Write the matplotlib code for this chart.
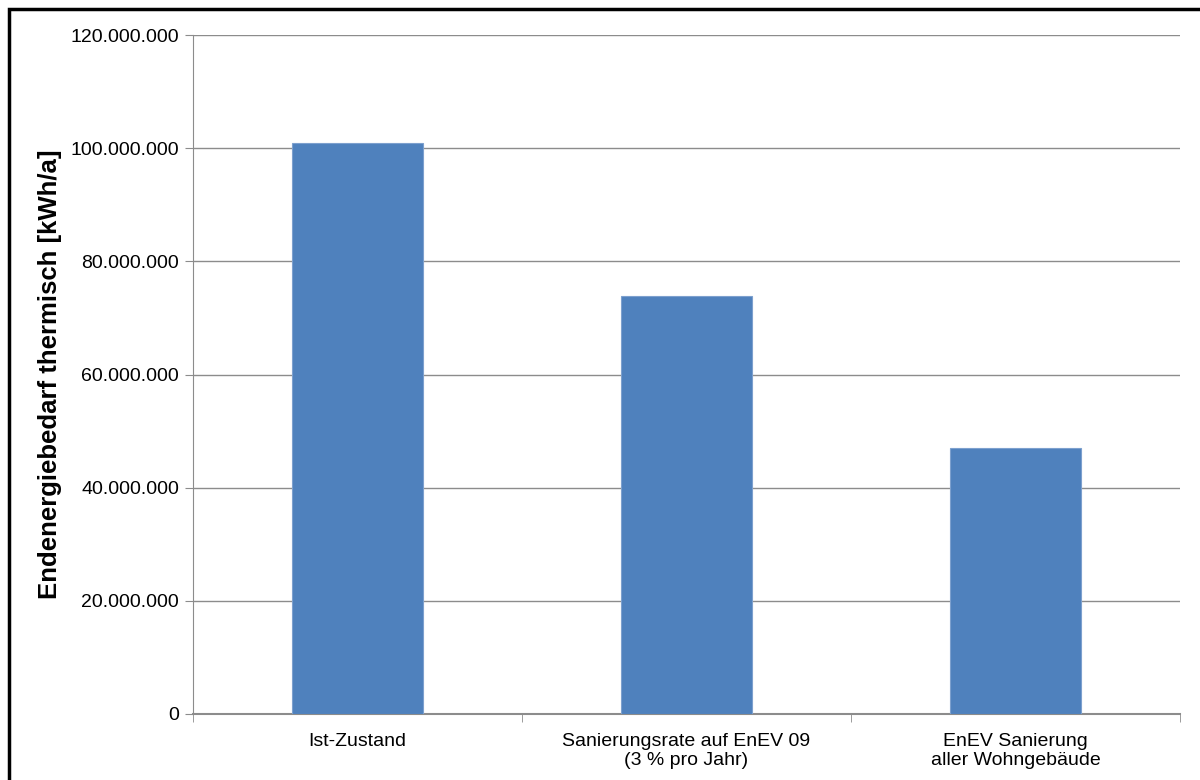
import matplotlib
matplotlib.use('Agg')
import matplotlib.pyplot as plt
from matplotlib.ticker import FuncFormatter, FixedLocator
from matplotlib.patches import Rectangle

categories = ['Ist-Zustand', 'Sanierungsrate auf EnEV 09\n(3 % pro Jahr)',
              'EnEV Sanierung\naller Wohngebäude']
values = [101000000, 73900000, 47000000]
yticks = [0, 20000000, 40000000, 60000000, 80000000, 100000000, 120000000]

plt.rcParams['font.family'] = ['Liberation Sans', 'DejaVu Sans']

fig = plt.figure(figsize=(12, 7.8), dpi=100)
ax = fig.add_axes([193/1200, 1-714/780, (1180-193)/1200, (714-35)/780])

x = range(len(categories))
ax.bar(x, values, width=0.4, color='#4F81BD', edgecolor='#7DA0CE', linewidth=0.8, zorder=3)

ax.set_xlim(-0.5, len(categories) - 0.5)
ax.set_ylim(0, 120000000)
ax.set_yticks(yticks)
ax.yaxis.set_major_formatter(FuncFormatter(lambda v, p: f'{int(v):,}'.replace(',', '.')))
ax.grid(axis='y', color='#8c8c8c', linewidth=1, zorder=0)

ax.set_xticks(list(x))
ax.set_xticklabels(categories, fontsize=14, linespacing=1.1)
ax.xaxis.set_minor_locator(FixedLocator([-0.5, 0.5, 1.5, 2.5]))
ax.tick_params(axis='x', which='major', length=0, pad=14)
ax.tick_params(axis='x', which='minor', length=6, color='#8c8c8c', direction='out')
ax.tick_params(axis='y', length=6, color='#8c8c8c', labelsize=14, pad=4)

for s in ['top', 'right']:
    ax.spines[s].set_visible(False)
for s in ['left', 'bottom']:
    ax.spines[s].set_color('#8c8c8c')
ax.spines['bottom'].set_linewidth(1.5)

ax.set_ylabel('Endenergiebedarf thermisch [kWh/a]', fontsize=18.5, fontweight='bold', labelpad=6)

# outer black frame
fig.patches.append(Rectangle((9/1200, -0.1), 1.2, 1 - 9/780 + 0.1, transform=fig.transFigure,
                             fill=False, edgecolor='black', linewidth=2.5))

fig.savefig('out.png', dpi=100)
